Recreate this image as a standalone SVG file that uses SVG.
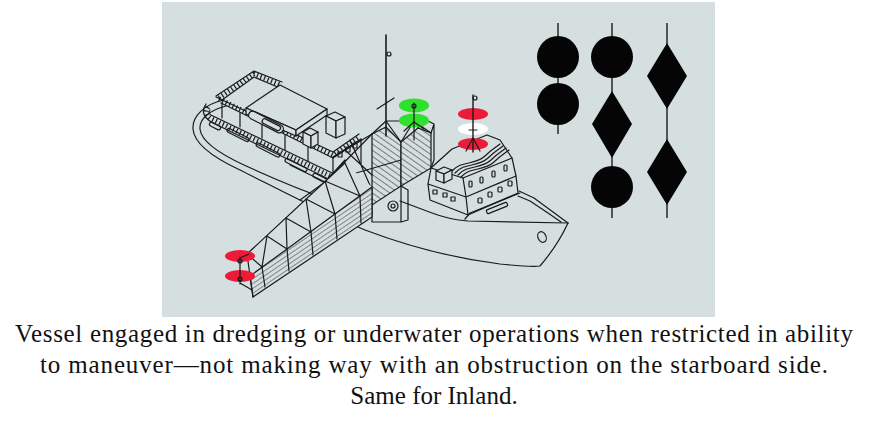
<svg xmlns="http://www.w3.org/2000/svg" width="871" height="433" viewBox="0 0 871 433">
<defs>
<style>
.ln{fill:none;stroke:#1a1a1a;stroke-width:1.2;stroke-linejoin:round;stroke-linecap:round}
.bg{fill:#d5dfe0;stroke:#1a1a1a;stroke-width:1.2;stroke-linejoin:round}
.post{fill:none;stroke:#1a1a1a;stroke-width:5;stroke-dasharray:1.2 2.6}
.shape{fill:#050505}
.cord{stroke:#333;stroke-width:1.6}
.red{fill:#ec1b3a}
.grn{fill:#2fe02f}
.wht{fill:#ffffff}
.cap{font-family:"Liberation Serif","Times New Roman",serif;font-size:25px;fill:#111}
</style>
<pattern id="hatch" width="5" height="5" patternUnits="userSpaceOnUse" patternTransform="rotate(-55)">
<rect width="5" height="5" fill="#d5dfe0"/>
<line x1="0" y1="0" x2="0" y2="5" stroke="#1a1a1a" stroke-width="1"/>
</pattern>
<pattern id="stripe" width="12" height="4" patternUnits="userSpaceOnUse" patternTransform="rotate(-34)">
<rect width="12" height="4" fill="#d5dfe0"/>
<line x1="0" y1="0" x2="12" y2="0" stroke="#1a1a1a" stroke-width="0.9"/>
</pattern>
</defs>

<rect id="panel" x="162" y="2" width="553" height="315" fill="#d5dfe0"/>

<g id="ship">
<g id="hull" class="ln">
<path d="M224,100 C205,104 192,116 193,129 C194,143 212,157 240,170 C280,190 325,214 365,230 C410,247 460,259 500,264 C520,266 533,267 540,266 C552,252 562,236 568,223"/>
<path d="M226,106 C210,110 199,119 200,129 C201,141 218,153 244,165 C270,177 300,190 330,200 L372,212"/>
<path d="M400,201 L432,213 C445,218 455,220 468,221 L568,223"/>
<path d="M568,223 L553,212 L534,198 L519,191"/>
<path d="M561,222 L548,213 L530,201 L518,196"/>
<ellipse cx="542" cy="237" rx="4" ry="5.5" transform="rotate(-25 542 237)"/>
</g>

<g id="aft-deckhouse">
<path class="post" d="M208,107 Q203,114 212,119 L372,196"/>
<path class="ln" d="M206,104 Q199,114 211,122 L372,200"/>
<path class="ln" d="M210,110 Q207,114 213,116 L372,192"/>
<g class="ln">
<rect x="209" y="124" width="12" height="4" rx="2" transform="rotate(27 215 126)"/>
<rect x="226" y="133" width="24" height="4" rx="2" transform="rotate(27 238 135)"/>
<rect x="255" y="148" width="26" height="4" rx="2" transform="rotate(27 268 150)"/>
<rect x="284" y="163" width="24" height="4" rx="2" transform="rotate(27 296 165)"/>
<rect x="312" y="177" width="20" height="4" rx="2" transform="rotate(27 322 179)"/>
<path d="M222,104 L222,118 M240,113 L240,127 M262,124 L262,138 M285,135 L285,150 M308,146 L308,162 M333,157 L333,178 M361,139 L361,164"/>
<path d="M333,157 L361,139"/>
</g>
<path class="post" d="M219,98 L254,74 L281,85"/>
<path class="ln" d="M216,96 L254,71 L282,82"/>
<path class="ln" d="M222,100 L254,77 L280,88"/>
<path class="post" d="M219,99 L333,155 L360,137"/>
<path class="ln" d="M216,97 L333,152 L359,134"/>
<path class="ln" d="M221,103 L333,158 L361,140"/>
<g class="ln">
<rect x="338" y="152" width="4" height="5"/><rect x="346" y="147" width="4" height="5"/><rect x="353" y="143" width="4" height="5"/>
</g>
<polygon class="bg" points="246,108 280,85 327,109 296,130"/>
<polygon class="bg" points="246,108 296,130 296,136 246,114"/>
<polygon class="bg" points="296,130 327,109 327,115 296,136"/>
<g transform="rotate(27 266 122)">
<rect class="bg" x="247" y="118" width="38" height="8" rx="4"/>
<rect class="ln" x="262" y="119.5" width="20" height="5" rx="2.5"/>
</g>
<polygon class="bg" points="303,132 310,128 318,132 311,136"/>
<polygon class="bg" points="303,132 311,136 311,148 303,144"/>
<polygon class="bg" points="311,136 318,132 318,144 311,148"/>
<polygon class="bg" points="326,116 335,112 345,117 336,121"/>
<polygon class="bg" points="326,116 336,121 336,138 326,133"/>
<polygon class="bg" points="336,121 345,117 345,134 336,138"/>
</g>

<g id="gantry">
<polygon points="372,134 386,127 401,142 401,186 372,205" fill="url(#hatch)" stroke="#1a1a1a" stroke-width="1.2"/>
<polygon points="401,142 418,128 431,133 431,168 401,186" fill="url(#hatch)" stroke="#1a1a1a" stroke-width="1.2"/>
<g class="ln">
<path d="M386,121 L414,121 M372,134 L386,121 M401,142 L414,121 L431,133 M401,142 L386,121"/>
<path d="M418,128 L424,119 L434,124 L431,133 M434,124 L434,160 L431,168"/>
<path d="M372,205 L372,222 M401,186 L401,222 M372,222 L401,222 M401,222 L408,220 L408,190 L401,186"/>
<circle cx="393" cy="206" r="5"/>
<circle cx="393" cy="206" r="2"/>
<path d="M325,182 L300,200 M325,182 L345,160 M325,182 L372,134 M325,182 L372,205 M325,182 L401,160 M325,182 L360,215 M325,182 L350,172 M325,182 L290,165 M325,182 L310,205"/>
<path d="M345,150 L372,134 M345,150 L372,175 M350,140 L372,190"/>
</g>
</g>

<g id="bridge">
<polygon class="bg" points="431,168 452,149 487,135 500,140 512,158 516,176 518,193 468,215 430,200 428,184"/>
<g class="ln">
<path d="M431,168 L463,178 L512,158"/>
<path d="M428,184 L466,197 L516,176"/>
<path d="M463,178 L466,197 L468,215"/>
<path d="M465,219 L470,213 L520,193"/>
<rect x="486" y="206" width="22" height="4" rx="1" transform="rotate(-22 497 208)"/>
<rect x="433" y="190" width="4" height="4"/><rect x="443" y="193" width="4" height="4"/><rect x="451" y="197" width="4" height="4"/>
<rect x="478" y="198" width="4" height="5" rx="1"/><rect x="488" y="192" width="4" height="5" rx="1"/><rect x="498" y="187" width="4" height="5" rx="1"/><rect x="508" y="181" width="4" height="5" rx="1"/>
<rect x="469" y="181" width="3" height="6" rx="1"/><rect x="480" y="177" width="3" height="6" rx="1"/><rect x="492" y="171" width="3" height="6" rx="1"/><rect x="504" y="165" width="3" height="6" rx="1"/>
<path d="M452,171 C462,160 474,166 485,156 C491,150 495,148 500,144"/>
<path d="M455,173 C465,162 477,168 488,158 C494,152 498,150 503,146"/>
<path d="M458,175 C468,164 480,170 491,160 C497,154 501,152 506,148"/>
<path d="M461,177 C471,166 483,172 494,162 C500,156 504,154 509,150"/>
</g>
<polygon class="bg" points="436,171 444,167 452,170 444,174"/>
<polygon class="bg" points="436,171 444,174 444,183 436,180"/>
<polygon class="bg" points="444,174 452,170 452,179 444,183"/>
</g>

<g id="ladder">
<polygon points="247,254 345,163 372,187 372,217 253,297 250,276" fill="#d5dfe0"/>
<polygon points="250,276 372,187 372,217 253,297" fill="url(#stripe)" stroke="#1a1a1a" stroke-width="1.2"/>
<g class="ln">
<path d="M247,254 L345,163"/>
<path d="M247,254 L250,276 L253,297"/>
<path d="M247,254 L262,267 L267,236 L287,249 L286,218 L311,232 L306,199 L335,214 L325,181 L360,196 L345,163"/>
<path d="M262,267 L265,287 M287,249 L289,271 M311,232 L313,255 M335,214 L337,239 M360,196 L361,223"/>
</g>
</g>

<g id="lights">
<ellipse class="grn" cx="414" cy="105.5" rx="15" ry="7"/>
<ellipse class="grn" cx="414" cy="120.5" rx="15" ry="7"/>
<ellipse class="red" cx="473" cy="114" rx="15" ry="6"/>
<ellipse class="wht" cx="473" cy="129" rx="15" ry="6"/>
<ellipse class="red" cx="473" cy="144" rx="15" ry="6"/>
<ellipse class="red" cx="240" cy="256" rx="15" ry="6"/>
<ellipse class="red" cx="240" cy="276" rx="15" ry="6"/>
</g>

<g id="masts" class="ln">
<path d="M386,35 L386,136" stroke-width="1.6"/>
<circle cx="389" cy="54" r="2"/>
<path d="M377,109 L394,98"/>
<path d="M414,103 L414,140"/>
<circle cx="414" cy="106" r="2"/>
<path d="M414,122 L404,131 M414,122 L424,129"/>
<path d="M473,95 L473,152" stroke-width="1.4"/>
<circle cx="475" cy="98" r="2"/>
<path d="M473,138 L466,151 M473,138 L480,151 M469,130 L477,130"/>
<path d="M240,257 L240,284 M240,258 L249,254 M240,283 L252,290"/>
<circle cx="240" cy="261" r="2"/>
<circle cx="240" cy="279" r="2"/>
</g>
</g>

<g id="dayshapes">
<line class="cord" x1="558" y1="23" x2="558" y2="134"/>
<circle class="shape" cx="558" cy="57" r="21"/>
<circle class="shape" cx="558" cy="104" r="21"/>
<line class="cord" x1="612" y1="23" x2="612" y2="218"/>
<circle class="shape" cx="612" cy="57" r="21"/>
<polygon class="shape" points="612,91 632,124 612,158 592,124"/>
<circle class="shape" cx="612" cy="187" r="21"/>
<line class="cord" x1="667" y1="23" x2="667" y2="218"/>
<polygon class="shape" points="667,43 687,76 667,109 647,76"/>
<polygon class="shape" points="667,139 687,172 667,205 647,172"/>
</g>

<g id="caption" class="cap" text-anchor="middle">
<text x="434" y="342" textLength="838" lengthAdjust="spacing">Vessel engaged in dredging or underwater operations when restricted in ability</text>
<text x="434" y="373" textLength="788" lengthAdjust="spacing">to maneuver—not making way with an obstruction on the starboard side.</text>
<text x="434" y="404">Same for Inland.</text>
</g>
</svg>
